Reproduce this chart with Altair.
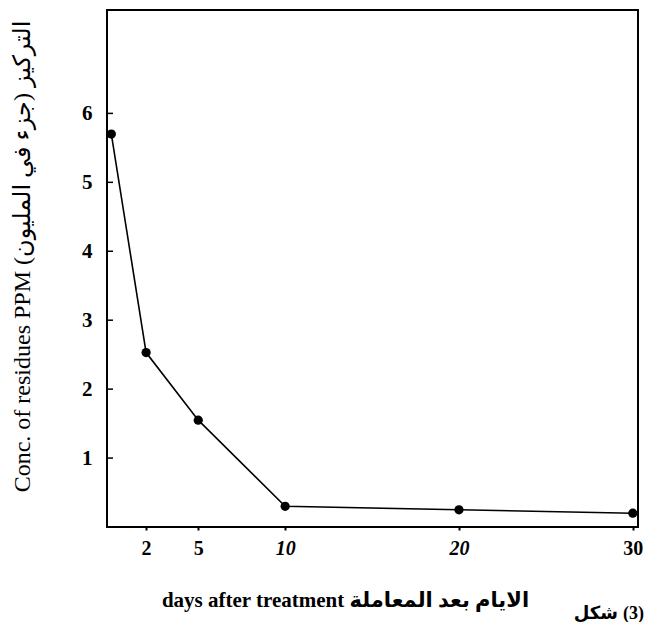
import altair as alt
import pandas as pd

days = [0, 2, 5, 10, 20, 30]
conc = [5.7, 2.53, 1.55, 0.3, 0.25, 0.2]
x_ticks = [2, 5, 10, 20, 30]
y_ticks = [1, 2, 3, 4, 5, 6]

df = pd.DataFrame({"day": days, "conc": conc})
ytick_df = pd.DataFrame({"v": y_ticks})

SERIF = "Liberation Serif, DejaVu Serif, DejaVu Sans"
W, H = 531, 517

xscale = alt.Scale(domain=[-0.25, 30.3], nice=False, zero=False)
yscale = alt.Scale(domain=[0, 7.5], nice=False)

xaxis = alt.Axis(
    values=x_ticks, grid=False, domain=False, tickSize=3, tickWidth=2, tickColor="black",
    labelFont=SERIF, labelFontSize=20, labelFontWeight="bold", labelColor="black",
    labelPadding=8, format="d",
    labelFontStyle={"condition": {"test": "datum.value == 10 || datum.value == 20", "value": "italic"}, "value": "normal"},
    title="days after treatment الايام بعد المعاملة",
    titleFont=SERIF, titleFontSize=21, titleFontWeight="bold", titleColor="black",
    titleX=238, titleY=79, titleAlign="center", titleBaseline="alphabetic",
)

yaxis_labels = alt.Axis(
    orient="left", values=y_ticks, grid=False, domain=False, ticks=False,
    labelFont=SERIF, labelFontSize=21, labelFontWeight="bold", labelColor="black",
    labelPadding=15, format="d",
    title="Conc. of residues PPM \u2067التركيز (جزء في المليون)\u2069",
    titleFont=SERIF, titleFontSize=24, titleFontWeight="normal", titleColor="black",
    titleAngle=-90, titleX=-85, titleY=246, titleAlign="center", titleBaseline="middle",
)

line = alt.Chart(df).mark_line(color="black", strokeWidth=1.6).encode(
    x=alt.X("day:Q", scale=xscale, axis=xaxis),
    y=alt.Y("conc:Q", scale=yscale, axis=yaxis_labels),
)
pts = alt.Chart(df).mark_circle(color="black", opacity=1, size=85).encode(
    x=alt.X("day:Q", scale=xscale),
    y=alt.Y("conc:Q", scale=yscale, axis=yaxis_labels),
)
yticks = alt.Chart(ytick_df).mark_rule(color="black", strokeWidth=1.5).encode(
    x=alt.value(0),
    x2=alt.value(6),
    y=alt.Y("v:Q", scale=yscale, axis=yaxis_labels),
)
cap1 = alt.Chart(df.head(1)).mark_text(
    text="شكل", font=SERIF, fontSize=18, fontWeight="bold", color="black",
    align="right", baseline="alphabetic",
).encode(x=alt.value(W - 20), y=alt.value(H + 92))
cap2 = alt.Chart(df.head(1)).mark_text(
    text="(3)", font=SERIF, fontSize=18, fontWeight="bold", color="black",
    align="left", baseline="alphabetic",
).encode(x=alt.value(W - 15), y=alt.value(H + 92))

chart = alt.layer(line, pts, yticks, cap1, cap2).properties(
    width=W, height=H,
    autosize=alt.AutoSizeParams(type="none"),
    padding={"left": 99, "top": 2, "right": 10, "bottom": 95},
    background="white",
).configure_view(stroke="black", strokeWidth=2)

chart.save("out.html", embed_options={"renderer": "svg", "actions": False})
